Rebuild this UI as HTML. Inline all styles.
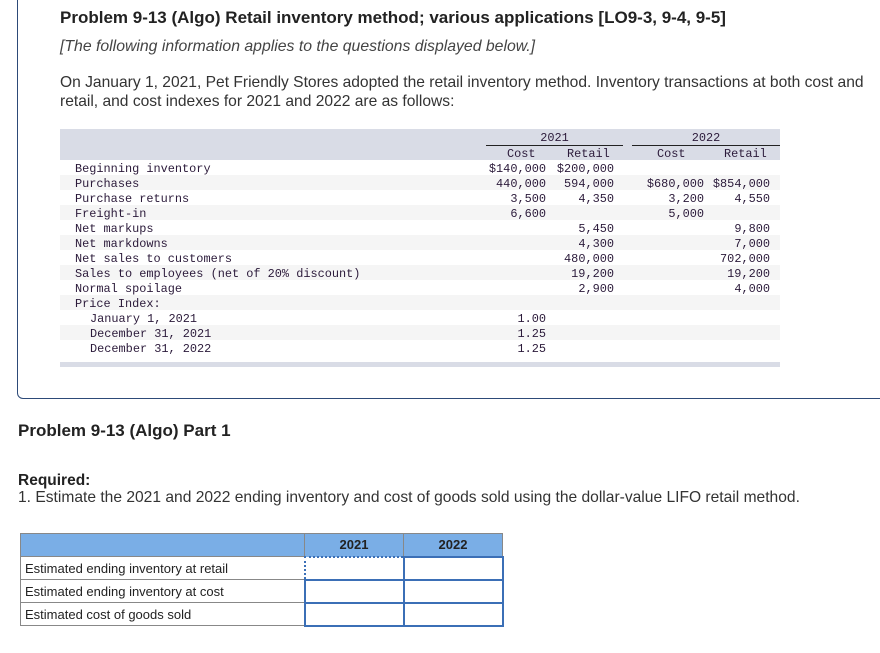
<!DOCTYPE html>
<html><head><meta charset="utf-8"><style>
body{margin:0;width:880px;height:653px;background:#fff;position:relative;overflow:hidden;font-family:"Liberation Sans",sans-serif;color:#222}
.a{position:absolute;white-space:nowrap}
.box{position:absolute;left:17px;top:-5px;width:880px;height:404px;border:1.5px solid #2d4a78;border-radius:0 0 0 6px;box-sizing:border-box}
.m{font-family:"Liberation Mono",monospace;font-size:11.9px;color:#2b1a3a}
.row{position:absolute;left:60px;width:720px;height:15px}
td{padding:0}
</style></head><body>
<div class="box"></div>
<div class="a" style="left:60px;top:8px;font-size:17px;font-weight:bold;color:#222">Problem 9-13 (Algo) Retail inventory method; various applications [LO9-3, 9-4, 9-5]</div>
<div class="a" style="left:60px;top:38px;font-size:15.8px;font-style:italic;color:#444">[The following information applies to the questions displayed below.]</div>
<div class="a" style="left:60px;top:73px;font-size:15.6px;line-height:19px;color:#333">On January 1, 2021, Pet Friendly Stores adopted the retail inventory method. Inventory transactions at both cost and<br>retail, and cost indexes for 2021 and 2022 are as follows:</div>

<div>
<div class="a" style="left:60px;top:129px;width:720px;height:31px;background:#d9dce6"></div>
<div class="a m" style="left:486px;top:131px;width:137px;text-align:center;border-bottom:1px solid #222">2021</div>
<div class="a m" style="left:632px;top:131px;width:148px;text-align:center;border-bottom:1px solid #222">2022</div>
<div class="a m" style="left:507px;top:147px">Cost</div>
<div class="a m" style="left:567px;top:147px">Retail</div>
<div class="a m" style="left:657px;top:147px">Cost</div>
<div class="a m" style="left:724px;top:147px">Retail</div>
<div id="rows"></div>
<div class="a" style="left:60px;top:362px;width:720px;height:5px;background:#d9dce6"></div>
</div>

<div class="a" style="left:18px;top:421px;font-size:17px;font-weight:bold">Problem 9-13 (Algo) Part 1</div>
<div class="a" style="left:18px;top:472px;font-size:15.5px;font-weight:bold">Required:</div>
<div class="a" style="left:18px;top:489px;font-size:15.6px;color:#333">1. Estimate the 2021 and 2022 ending inventory and cost of goods sold using the dollar-value LIFO retail method.</div>

<table class="a" style="left:20px;top:533px;border-collapse:collapse;font-size:13px">
<tr style="height:23px;background:#7aaee6;font-weight:bold">
<td style="width:283px;border:1px solid #888"></td>
<td style="width:98px;border:1px solid #888;text-align:center">2021</td>
<td style="width:98px;border:1px solid #888;text-align:center">2022</td></tr>
<tr style="height:23px"><td style="border:1px solid #888;padding-left:4px">Estimated ending inventory at retail</td>
<td style="border:2px dotted #3b6fb6"></td>
<td style="border:2px solid #3b6fb6"></td></tr>
<tr style="height:23px"><td style="border:1px solid #888;padding-left:4px">Estimated ending inventory at cost</td>
<td style="border:2px solid #3b6fb6"></td>
<td style="border:2px solid #3b6fb6"></td></tr>
<tr style="height:23px"><td style="border:1px solid #888;padding-left:4px">Estimated cost of goods sold</td>
<td style="border:2px solid #3b6fb6"></td>
<td style="border:2px solid #3b6fb6"></td></tr>
</table>

<script>
const labels=["Beginning inventory","Purchases","Purchase returns","Freight-in","Net markups","Net markdowns","Net sales to customers","Sales to employees (net of 20% discount)","Normal spoilage","Price Index:","  January 1, 2021","  December 31, 2021","  December 31, 2022"];
const cost21=["$140,000","440,000","3,500","6,600","","","","","","","1.00","1.25","1.25"];
const retail21=["$200,000","594,000","4,350","","5,450","4,300","480,000","19,200","2,900","","","",""];
const cost22=["","$680,000","3,200","5,000","","","","","","","","",""];
const retail22=["","$854,000","4,550","","9,800","7,000","702,000","19,200","4,000","","","",""];
const host=document.getElementById('rows');
labels.forEach((l,i)=>{
  const top=160+15*i;
  const bg=document.createElement('div');
  bg.className='row';bg.style.top=top+'px';
  if(i%2==1)bg.style.background='#f5f5f5';
  
  
  host.appendChild(bg);
  const cells=[[l,75,null],[cost21[i],null,546],[retail21[i],null,614],[cost22[i],null,704],[retail22[i],null,770]];
  cells.forEach(c=>{
    if(!c[0])return;
    const d=document.createElement('div');
    d.className='a m';
    d.style.top=(top+2)+'px';
    if(c[1]!==null){d.style.left=(c[0].startsWith('  ')?90:75)+'px';d.textContent=c[0].trim();}
    else{d.style.right=(880-c[2])+'px';d.textContent=c[0];}
    
    
    host.appendChild(d);
  });
});
</script>
</body></html>
